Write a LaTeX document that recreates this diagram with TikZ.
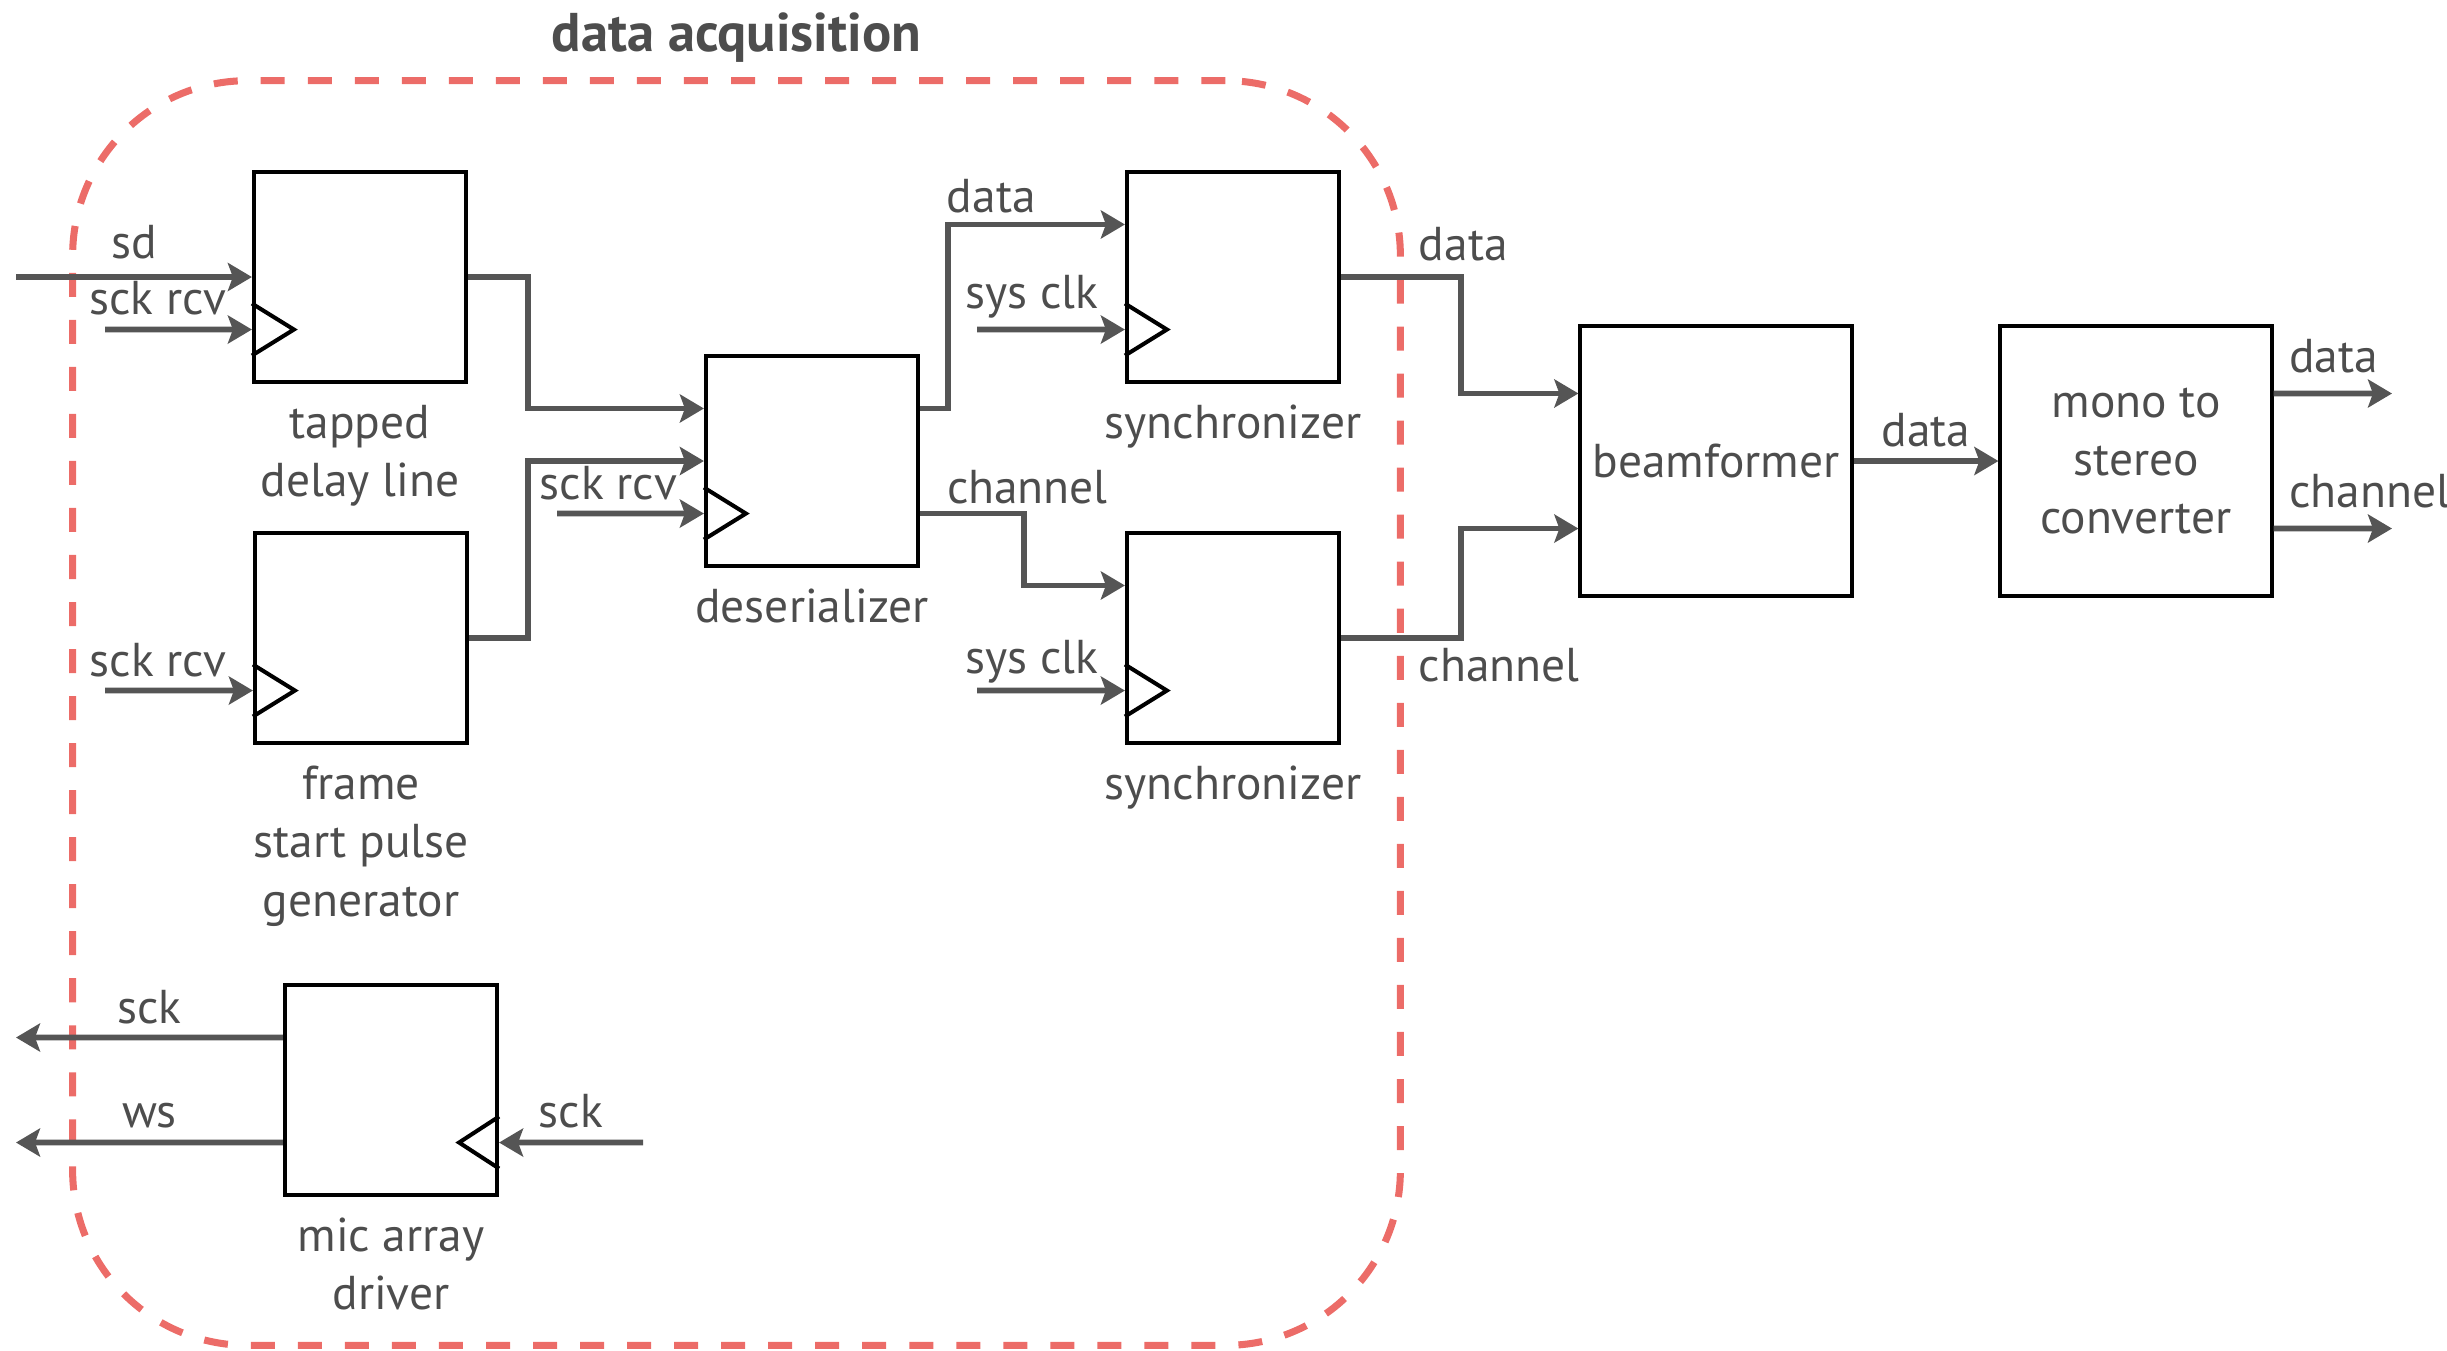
\documentclass[tikz,border=0pt]{standalone}
\usepackage{fontspec}
\setmainfont{PT Sans}
\usetikzlibrary{arrows.meta,positioning}
\definecolor{wiregray}{RGB}{85,85,85}
\definecolor{textgray}{RGB}{77,77,77}
\definecolor{dashred}{RGB}{236,108,104}
\begin{document}
\begin{tikzpicture}[x=0.01cm, y=-0.01cm, >={Stealth[length=2.4mm, width=2.8mm, inset=.5mm]},
		font=\fontsize{13.5}{16.6}\selectfont, text=textgray,
		block/.style={draw=black, line width=1.15pt, minimum width=2.12cm, minimum height=2.1cm, inner sep=0pt},
		bigblock/.style={block, minimum width=2.71cm, minimum height=2.7cm, align=center},
		wire/.style={->, draw=wiregray, line width=1.6pt},
		clk/.style={draw=black, line width=1.15pt},
		lbl/.style={inner sep=2pt},
		caption/.style={align=center, inner sep=0pt, below=2mm},
		group/.style={draw=dashred, line width=2pt, dash pattern=on 2.4mm off 2.3mm, rounded corners=1.75cm,
			minimum width=13.27cm, minimum height=12.64cm, inner sep=0pt}]
	\useasboundingbox (0,0) rectangle (2447,1350);
	% data acquisition
	\node[group] (acq) at (736.5,713) {};
	\node[font=\fontsize{15.5}{18}\selectfont\bfseries, inner sep=0pt, above=1.4mm of acq.north] (acq title) {data acquisition};
	% tapped delay line
	\node[block] (tdl) at (360,277) {};
	\node[caption] (tdl cap) at (tdl.south) {tapped\\delay line};
	\coordinate (tdl ck) at ([yshift=-5.25mm]tdl.west);
	\coordinate (sd in) at (16,277);
	\coordinate (tdl sck) at (105,329.5);
	\draw[wire] (sd in) -- node[lbl, above, yshift=2.2pt] {sd} (tdl.west);
	\draw[wire] (tdl sck) -- node[lbl, above, pos=.36, yshift=1.3pt] {sck rcv} (tdl ck);
	\draw[clk] ([yshift=2.6mm]tdl ck) -- ++(42,26) -- ++(-42,26);
	% frame start pulse generator
	\node[block] (fsp) at (361,638) {};
	\node[caption] (fsp cap) at (fsp.south) {frame\\start pulse\\generator};
	\coordinate (fsp ck) at ([yshift=-5.25mm]fsp.west);
	\coordinate (fsp sck) at (105,690.5);
	\draw[wire] (fsp sck) -- node[lbl, above, pos=.36, yshift=.9pt] {sck rcv} (fsp ck);
	\draw[clk] ([yshift=2.6mm]fsp ck) -- ++(42,26) -- ++(-42,26);
	% deserializer
	\node[block] (des) at (812,461) {};
	\node[caption] (des cap) at (des.south) {deserializer};
	\coordinate (des ck) at ([yshift=-5.25mm]des.west);
	\coordinate (des sck) at (557,513.5);
	\draw[wire] (tdl.east) -- ++(60,0) |- ([yshift=5.25mm]des.west);
	\draw[wire] (fsp.east) -- ++(59,0) |- (des.west);
	\draw[wire] (des sck) -- node[lbl, above, pos=.35, yshift=.9pt] {sck rcv} (des ck);
	\draw[clk] ([yshift=2.6mm]des ck) -- ++(42,26) -- ++(-42,26);
	% synchronizers
	\node[block] (syn1) at (1233,277) {};
	\node[caption] (syn1 cap) at (syn1.south) {synchronizer};
	\node[block] (syn2) at (1233,638) {};
	\node[caption] (syn2 cap) at (syn2.south) {synchronizer};
	\coordinate (syn1 ck) at ([yshift=-5.25mm]syn1.west);
	\coordinate (syn2 ck) at ([yshift=-5.25mm]syn2.west);
	\coordinate (syn1 clk) at (977,329.5);
	\coordinate (syn2 clk) at (977,690.5);
	\draw[wire] ([yshift=5.25mm]des.east) -- ++(28,0) |- node[lbl, pos=.5, above right, xshift=-1.1mm, yshift=.4pt] {data} ([yshift=5.25mm]syn1.west);
	\draw[wire] ([yshift=-5.25mm]des.east) -- node[lbl, pos=.27, above right, xshift=-1.1mm] {channel} ++(104,0) |- ([yshift=5.25mm]syn2.west);
	\draw[wire] (syn1 clk) -- node[lbl, above, pos=.37, yshift=.4pt] {sys clk} (syn1 ck);
	\draw[wire] (syn2 clk) -- node[lbl, above, pos=.37, yshift=-.6pt] {sys clk} (syn2 ck);
	\draw[clk] ([yshift=2.6mm]syn1 ck) -- ++(42,26) -- ++(-42,26);
	\draw[clk] ([yshift=2.6mm]syn2 ck) -- ++(42,26) -- ++(-42,26);
	% beamformer
	\node[bigblock] (bf) at (1716,461) {beamformer};
	\draw[wire] (syn1.east) -- node[lbl, pos=.567, above right, yshift=1.8pt] {data} ++(120,0) |- ([yshift=6.75mm]bf.west);
	\draw[wire] (syn2.east) -- node[lbl, pos=.567, below right] {channel} ++(120,0) |- ([yshift=-6.75mm]bf.west);
	% mono to stereo converter
	\node[bigblock] (msc) at (2136,461) {mono to\\stereo\\converter};
	\coordinate (msc data) at (2392,393.5);
	\coordinate (msc ch) at (2392,528.5);
	\draw[wire] (bf.east) -- node[lbl, above, yshift=1.3pt] {data} (msc.west);
	\draw[wire] ([yshift=6.75mm]msc.east) -- node[lbl, pos=.05, above right, yshift=3pt] {data} (msc data);
	\draw[wire] ([yshift=-6.75mm]msc.east) -- node[lbl, pos=.05, above right, yshift=3pt] {channel} (msc ch);
	% mic array driver
	\node[block] (mad) at (391,1090) {};
	\node[caption] (mad cap) at (mad.south) {mic array\\driver};
	\coordinate (mad ck) at ([yshift=-5.25mm]mad.east);
	\coordinate (mad sck) at (16,1037.5);
	\coordinate (mad ws) at (16,1142.5);
	\coordinate (mad sck in) at (643,1142.5);
	\draw[wire] ([yshift=5.25mm]mad.west) -- node[lbl, above, yshift=.9pt] {sck} (mad sck);
	\draw[wire] ([yshift=-5.25mm]mad.west) -- node[lbl, above, yshift=1.3pt] {ws} (mad ws);
	\draw[wire] (mad sck in) -- node[lbl, above, yshift=1.3pt] {sck} (mad ck);
	\draw[clk] ([yshift=2.6mm]mad ck) -- ++(-40,26) -- ++(40,26);
\end{tikzpicture}
\end{document}
